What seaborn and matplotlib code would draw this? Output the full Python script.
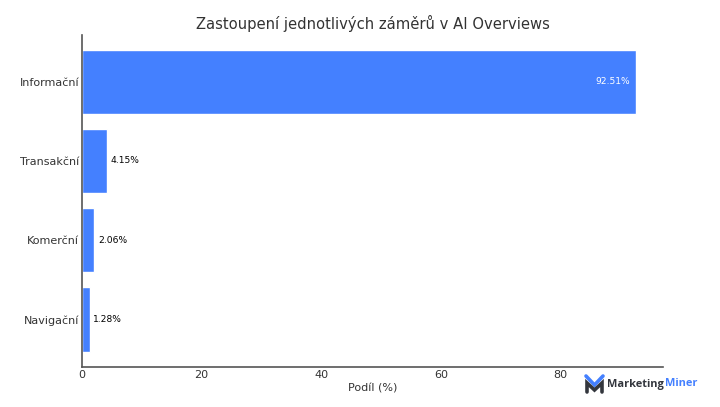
import matplotlib
matplotlib.use("Agg")
import matplotlib.pyplot as plt
from matplotlib.lines import Line2D
import seaborn as sns
import pandas as pd

categories = ["Informační", "Transakční", "Komerční", "Navigační"]
shares = [92.51, 4.15, 2.06, 1.28]
labels = ["92.51%", "4.15%", "2.06%", "1.28%"]

df = pd.DataFrame({"zamer": categories, "podil": shares})

sns.set_style("ticks")
plt.rcParams["font.family"] = "DejaVu Sans"

fig = plt.figure(figsize=(7.2, 4.07), dpi=100)
ax = fig.add_axes([82 / 720, 1 - 367 / 407, (663 - 82) / 720, (367 - 35) / 407])

sns.barplot(data=df, y="zamer", x="podil", color="#4480ff", saturation=1, width=0.81, ax=ax)

ax.set_xlim(0, 97.1)
ax.set_ylim(3.6, -0.59)
ax.set_xticks([0, 20, 40, 60, 80])
ax.set_title("Zastoupení jednotlivých záměrů v AI Overviews", fontsize=10.6, color="#333333", pad=4)
ax.set_xlabel("Podíl (%)", fontsize=8, color="#333333", labelpad=3)
ax.set_ylabel("")
ax.tick_params(axis="both", labelsize=8, labelcolor="#333333", color="#555555", length=2.5)
ax.tick_params(axis="y", direction="in", pad=2)
ax.tick_params(axis="x", length=0, pad=2)
sns.despine(ax=ax)
for side in ["left", "bottom"]:
    ax.spines[side].set_color("#555555")
    ax.spines[side].set_linewidth(1.2)

# first label sits inside the bar, the rest just past the end
for i, (v, lab) in enumerate(zip(shares, labels)):
    if v > 50:
        ax.annotate(lab, (v, i), xytext=(-4, 0), textcoords="offset points",
                    ha="right", va="center", fontsize=6.6, color="white")
    else:
        ax.annotate(lab, (v, i), xytext=(2.5, 0), textcoords="offset points",
                    ha="left", va="center", fontsize=6.6, color="black")

# logo bottom right: blue chevron over dark M
def logo_line(xs, ys, color):
    fig.add_artist(Line2D([x / 720 for x in xs], [1 - y / 407 for y in ys],
                          color=color, lw=2.6, solid_joinstyle="miter"))

logo_line([586, 594.5, 603], [376, 385, 376], "#4480ff")
logo_line([587, 587, 594.5, 602, 602], [392, 383, 390, 383, 392], "#33363d")

fig.text(607 / 720, 1 - 384 / 407, "Marketing", fontsize=7.9, fontfamily="Open Sans",
         fontweight="bold", color="#33363d", va="center")
fig.text(665 / 720, 1 - 384 / 407, "Miner", fontsize=7.9, fontfamily="Open Sans",
         fontweight="bold", color="#4480ff", va="center")

fig.savefig("out.png", dpi=100)
